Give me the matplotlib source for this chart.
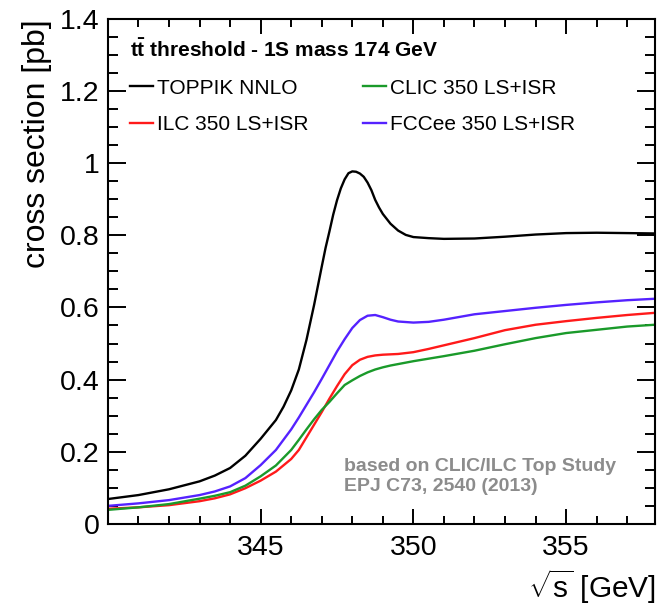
import numpy as np
import matplotlib.pyplot as plt
from matplotlib.ticker import MultipleLocator, FuncFormatter

plt.rcParams['font.family'] = ['Liberation Sans', 'DejaVu Sans']
plt.rcParams['mathtext.fontset'] = 'custom'
plt.rcParams['mathtext.rm'] = 'Liberation Sans'
plt.rcParams['mathtext.bf'] = 'Liberation Sans:bold'

# TOPPIK NNLO: centre-of-mass energy [GeV] and cross section [pb]
x_toppik = [340, 341, 342, 343, 343.5, 344, 344.5, 345, 345.5, 345.75, 346,
            346.25, 346.5, 346.75, 347, 347.125, 347.25, 347.375, 347.5,
            347.625, 347.75, 347.875, 348, 348.125, 348.25, 348.375, 348.5,
            348.625, 348.75, 348.875, 349, 349.25, 349.5, 349.75, 350, 350.5,
            351, 352, 353, 354, 355, 356, 357, 357.9]
toppik = [0.069, 0.080, 0.096, 0.118, 0.134, 0.155, 0.189, 0.236, 0.288, 0.325,
          0.37, 0.428, 0.51, 0.607, 0.713, 0.765, 0.81, 0.857, 0.897,
          0.93, 0.955, 0.972, 0.977, 0.976, 0.971, 0.962, 0.946,
          0.925, 0.898, 0.877, 0.859, 0.832, 0.813, 0.801, 0.795, 0.792,
          0.790, 0.791, 0.796, 0.802, 0.806, 0.807, 0.806, 0.805]

# luminosity spectrum + ISR folded curves
x_machine = [340, 341, 342, 343, 343.5, 344, 344.5, 345, 345.5, 346, 346.25,
             346.5, 346.75, 347, 347.25, 347.5, 347.75, 348, 348.25, 348.5,
             348.75, 349, 349.25, 349.5, 350, 350.5, 351, 352, 353, 354, 355,
             356, 357, 357.9]
ilc = [0.042, 0.046, 0.052, 0.063, 0.071, 0.082, 0.099, 0.120, 0.145, 0.180,
       0.205, 0.240, 0.275, 0.310, 0.347, 0.382, 0.415, 0.440, 0.455, 0.463,
       0.467, 0.469, 0.470, 0.471, 0.476, 0.485, 0.495, 0.515, 0.537, 0.552,
       0.562, 0.571, 0.579, 0.585]
clic = [0.039, 0.046, 0.055, 0.070, 0.078, 0.088, 0.106, 0.132, 0.162, 0.205,
        0.233, 0.262, 0.290, 0.316, 0.338, 0.362, 0.385, 0.398, 0.410, 0.420,
        0.428, 0.434, 0.439, 0.443, 0.451, 0.458, 0.465, 0.480, 0.498, 0.515,
        0.529, 0.538, 0.547, 0.552]
fccee = [0.050, 0.057, 0.066, 0.080, 0.090, 0.104, 0.127, 0.163, 0.205, 0.262,
         0.295, 0.330, 0.365, 0.402, 0.440, 0.478, 0.512, 0.543, 0.565, 0.577,
         0.579, 0.573, 0.566, 0.561, 0.558, 0.560, 0.566, 0.581, 0.590, 0.599,
         0.607, 0.614, 0.620, 0.624]

labels = ['TOPPIK NNLO', 'ILC 350 LS+ISR', 'CLIC 350 LS+ISR', 'FCCee 350 LS+ISR']
colors = ['black', '#ff1a1a', '#1a9a2a', '#5522ff']

fig = plt.figure(figsize=(6.62, 6.05), dpi=100)
ax = fig.add_axes([0.163, 0.134, 0.826, 0.835])

lines = []
series = [(x_toppik, toppik), (x_machine, ilc), (x_machine, clic),
          (x_machine, fccee)]
for (xs, ys), lab, c in zip(series, labels, colors):
    l, = ax.plot(xs, ys, color=c, lw=1.7, label=lab)
    lines.append(l)

ax.set_xlim(340, 357.9)
ax.set_ylim(0, 1.4)
ax.xaxis.set_major_locator(MultipleLocator(5))
ax.xaxis.set_minor_locator(MultipleLocator(1))
ax.yaxis.set_major_locator(MultipleLocator(0.2))
ax.yaxis.set_minor_locator(MultipleLocator(0.05))
ax.xaxis.set_major_formatter(FuncFormatter(lambda v, p: '' if v < 341 else f'{v:g}'))
ax.yaxis.set_major_formatter(FuncFormatter(lambda v, p: f'{v:g}'))

ax.tick_params(which='both', direction='in', top=True, right=True, width=1.4,
               labelsize=20.5)
ax.tick_params(axis='y', which='major', length=13, pad=6)
ax.tick_params(axis='y', which='minor', length=7)
ax.tick_params(axis='x', which='major', length=11, pad=8)
ax.tick_params(axis='x', which='minor', length=6)
for sp in ax.spines.values():
    sp.set_linewidth(1.5)

fig.text(37 / 662, 1 - 19 / 605, 'cross section [pb]', rotation=90,
         ha='center', va='top', fontsize=23)
fig.text(656 / 662, 1 - 587 / 605, r'$\sqrt{\mathrm{s}}$ [GeV]',
         ha='right', va='center', fontsize=21.5)

leg = ax.legend(handles=lines, ncol=2, loc='upper left',
                bbox_to_anchor=(0.013, 0.99), frameon=False, fontsize=15,
                title=r'$\mathbf{t\bar{t}}$ threshold - 1S mass 174 GeV',
                title_fontproperties={'weight': 'bold', 'size': 15},
                alignment='left', handlelength=1.1, handletextpad=0.2,
                labelspacing=0.85, columnspacing=2.65, borderpad=0.2)

ax.text(0.431, 0.094, 'based on CLIC/ILC Top Study\nEPJ C73, 2540 (2013)',
        transform=ax.transAxes, ha='left', va='center', fontsize=14,
        fontweight='bold', color='#8c8c8c', linespacing=1.2)

fig.savefig('out.png', dpi=100)
